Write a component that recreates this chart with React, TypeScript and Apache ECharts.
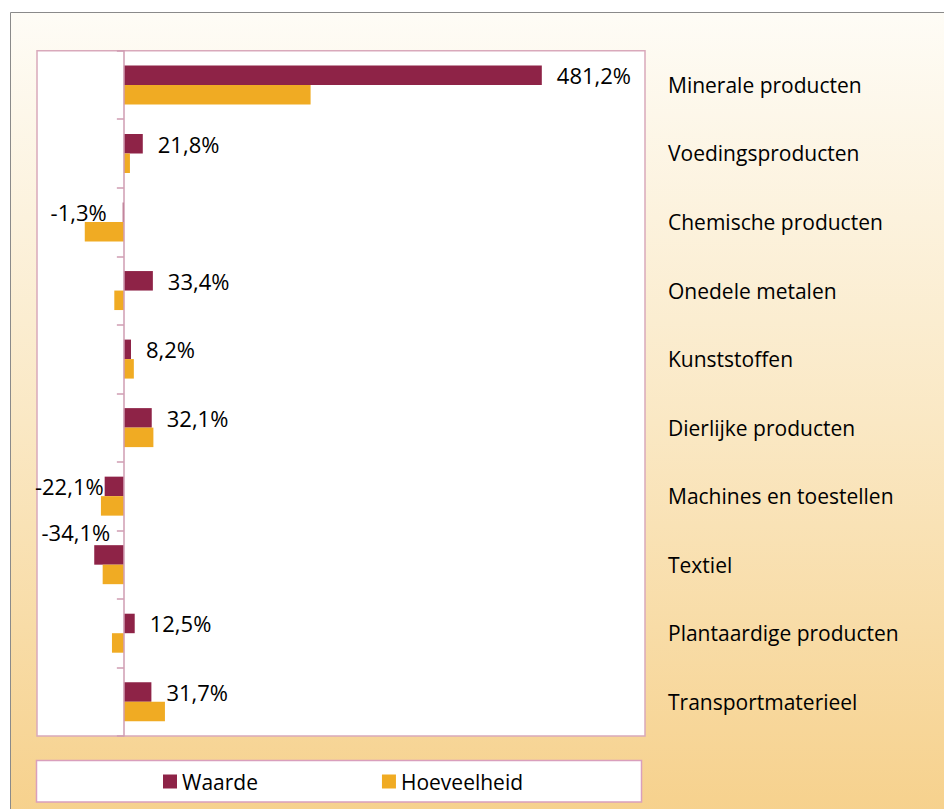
import React, { useEffect, useRef } from "react";
import * as echarts from "echarts";

const categories = [
  "Minerale producten",
  "Voedingsproducten",
  "Chemische producten",
  "Onedele metalen",
  "Kunststoffen",
  "Dierlijke producten",
  "Machines en toestellen",
  "Textiel",
  "Plantaardige producten",
  "Transportmaterieel",
];
const waarde = [481.2, 21.8, -1.3, 33.4, 8.2, 32.1, -22.1, -34.1, 12.5, 31.7];
const hoeveelheid = [215, 7, -45, -11, 11.5, 34, -26.4, -24.4, -13.7, 47.3];
const seriesNames = ["Waarde", "Hoeveelheid"];
const axisMin = -100;
const axisMax = 600;

const FONT = "'Open Sans', 'Noto Sans', sans-serif";
const fmt = (v: number) => v.toFixed(1).replace(".", ",") + "%";

export default function App() {
  const ref = useRef<HTMLDivElement>(null);
  useEffect(() => {
    if (!ref.current) return;
    const chart = echarts.init(ref.current, undefined, { renderer: "svg" });

    const waardeData = waarde.map((v, i) => {
      let label: any;
      if (v >= 0) {
        label = { position: "right", distance: 15, offset: [0, 0] };
      } else if (categories[i] === "Machines en toestellen") {
        label = { position: "left", distance: 1, offset: [0, 0] };
      } else if (categories[i] === "Textiel") {
        label = { position: "left", distance: 5, offset: [21, -23] };
      } else {
        label = { position: "left", distance: 16, offset: [0, 0] };
      }
      return { value: v, label };
    });

    chart.setOption({
      animation: false,
      backgroundColor: "#ffffff",
      graphic: [
        {
          type: "rect",
          z: -100,
          silent: true,
          shape: { x: 10.5, y: 12.5, width: 960, height: 820 },
          style: {
            fill: new echarts.graphic.LinearGradient(0, 0, 0, 1, [
              { offset: 0, color: "#fefcf6" },
              { offset: 0.5, color: "#fae8c4" },
              { offset: 1, color: "#f6d08a" },
            ]),
            stroke: "#8a8a8a",
            lineWidth: 1,
          },
        },
        {
          type: "rect",
          z: -50,
          silent: true,
          shape: { x: 36.5, y: 760.5, width: 605, height: 41.5 },
          style: { fill: "#ffffff", stroke: "#d99fbd", lineWidth: 1.5 },
        },
      ],
      legend: {
        data: seriesNames,
        left: 163,
        top: 771,
        padding: 0,
        itemWidth: 14,
        itemHeight: 14,
        itemGap: 124,
        icon: "rect",
        textStyle: { fontFamily: FONT, fontSize: 21, color: "#000", lineHeight: 20 },
      },
      grid: {
        left: 37,
        right: 299,
        top: 50.7,
        bottom: 73,
        show: true,
        backgroundColor: "#ffffff",
        borderColor: "#d9a9bb",
        borderWidth: 1.5,
        containLabel: false,
      },
      xAxis: {
        type: "value",
        min: axisMin,
        max: axisMax,
        axisLabel: { show: false },
        axisLine: { show: false },
        axisTick: { show: false },
        splitLine: { show: false },
      },
      yAxis: [
        {
          type: "category",
          data: categories,
          inverse: true,
          axisLine: { show: true, onZero: true, lineStyle: { color: "#cf9db2", width: 1.5 } },
          axisTick: { show: true, length: 7, lineStyle: { color: "#cf9db2", width: 1.5 } },
          axisLabel: { show: false },
          splitLine: { show: false },
          z: 5,
        },
        {
          type: "category",
          data: categories,
          inverse: true,
          position: "right",
          axisLine: { show: false, onZero: false },
          axisTick: { show: false },
          axisLabel: {
            show: true,
            margin: 23,
            align: "left",
            fontFamily: FONT,
            fontSize: 21,
            color: "#000",
          },
          splitLine: { show: false },
        },
      ],
      series: [
        {
          name: seriesNames[0],
          type: "bar",
          yAxisIndex: 0,
          data: waardeData,
          barWidth: 19.5,
          barGap: "0%",
          itemStyle: { color: "#8e2347" },
          label: {
            show: true,
            formatter: (p: any) => fmt(p.value),
            fontFamily: FONT,
            fontSize: 22,
            color: "#000",
          },
        },
        {
          name: seriesNames[1],
          type: "bar",
          yAxisIndex: 0,
          data: hoeveelheid,
          barWidth: 19.5,
          barGap: "0%",
          itemStyle: { color: "#f0ab23" },
        },
      ],
    });
    return () => chart.dispose();
  }, []);
  return (
    <div
      ref={ref}
      style={{ position: "fixed", left: 0, top: 0, width: 944, height: 809 }}
    />
  );
}
